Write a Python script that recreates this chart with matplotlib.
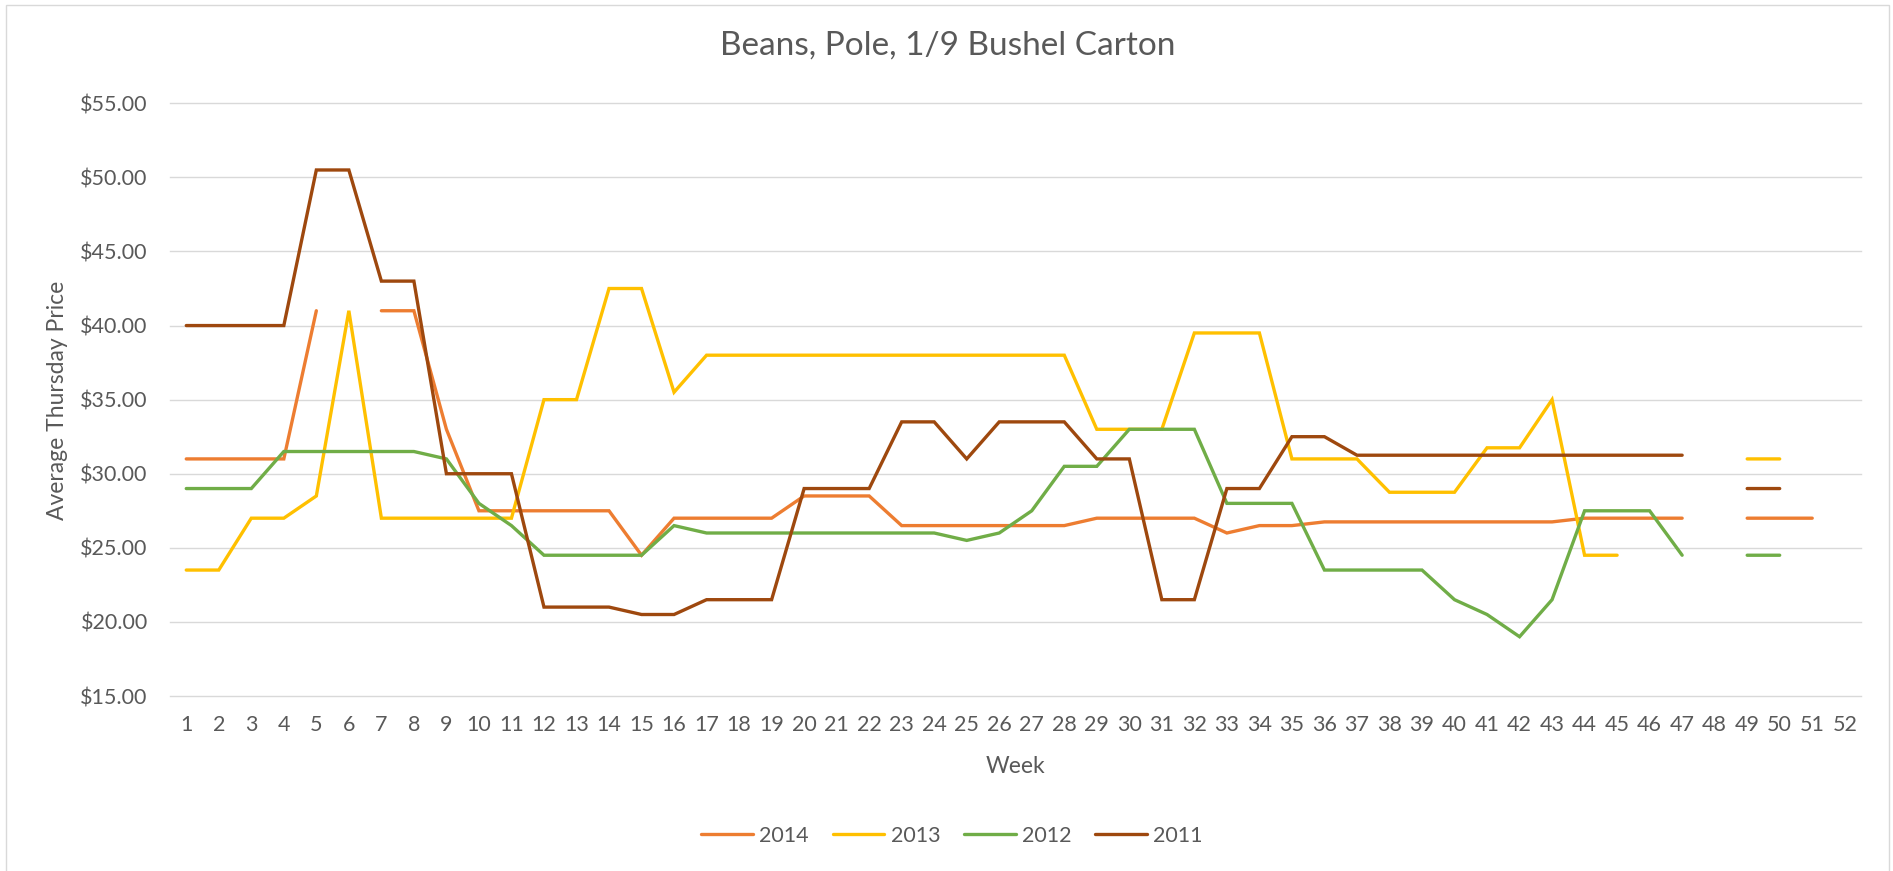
import numpy as np
import matplotlib
matplotlib.use("Agg")
import matplotlib.pyplot as plt
from matplotlib.patches import Rectangle
from matplotlib.ticker import FuncFormatter

nan = np.nan
weeks = list(range(1, 53))

y2014 = [31, 31, 31, 31, 41, nan, 41, 41, 33, 27.5,
         27.5, 27.5, 27.5, 27.5, 24.5, 27, 27, 27, 27, 28.5,
         28.5, 28.5, 26.5, 26.5, 26.5, 26.5, 26.5, 26.5, 27, 27,
         27, 27, 26, 26.5, 26.5, 26.75, 26.75, 26.75, 26.75, 26.75,
         26.75, 26.75, 26.75, 27, 27, 27, 27, nan, 27, 27,
         27, nan]
y2013 = [23.5, 23.5, 27, 27, 28.5, 41, 27, 27, 27, 27,
         27, 35, 35, 42.5, 42.5, 35.5, 38, 38, 38, 38,
         38, 38, 38, 38, 38, 38, 38, 38, 33, 33,
         33, 39.5, 39.5, 39.5, 31, 31, 31, 28.75, 28.75, 28.75,
         31.75, 31.75, 35, 24.5, 24.5, nan, nan, nan, 31, 31,
         nan, nan]
y2012 = [29, 29, 29, 31.5, 31.5, 31.5, 31.5, 31.5, 31, 28,
         26.5, 24.5, 24.5, 24.5, 24.5, 26.5, 26, 26, 26, 26,
         26, 26, 26, 26, 25.5, 26, 27.5, 30.5, 30.5, 33,
         33, 33, 28, 28, 28, 23.5, 23.5, 23.5, 23.5, 21.5,
         20.5, 19, 21.5, 27.5, 27.5, 27.5, 24.5, nan, 24.5, 24.5,
         nan, nan]
y2011 = [40, 40, 40, 40, 50.5, 50.5, 43, 43, 30, 30,
         30, 21, 21, 21, 20.5, 20.5, 21.5, 21.5, 21.5, 29,
         29, 29, 33.5, 33.5, 31, 33.5, 33.5, 33.5, 31, 31,
         21.5, 21.5, 29, 29, 32.5, 32.5, 31.25, 31.25, 31.25, 31.25,
         31.25, 31.25, 31.25, 31.25, 31.25, 31.25, 31.25, nan, 29, 29,
         nan, nan]

series_labels = ["2014", "2013", "2012", "2011"]
series_values = [y2014, y2013, y2012, y2011]
series_colors = ["#ED7D31", "#FFC000", "#70AD47", "#9E480E"]

title = "Beans, Pole, 1/9 Bushel Carton"
xlabel = "Week"
ylabel = "Average Thursday Price"
yticks = [15, 20, 25, 30, 35, 40, 45, 50, 55]

plt.rcParams['font.family'] = ['Lato', 'DejaVu Sans']
txt = "#595959"
grid_c = "#D9D9D9"

W, H = 1893, 871
fig = plt.figure(figsize=(W / 100, H / 100), dpi=100)
fig.patch.set_facecolor("white")

left, right, top, bottom = 170, 1861, 103.3, 696
ax = fig.add_axes([left / W, 1 - bottom / H, (right - left) / W, (bottom - top) / H])

for lab, vals, col in zip(series_labels, series_values, series_colors):
    ax.plot(weeks, np.array(vals, dtype=float), color=col, lw=2.4,
            solid_capstyle="round", solid_joinstyle="miter", label=lab)

ax.set_xlim(0.5, 52.5)
ax.set_ylim(15, 55)
ax.set_xticks(weeks)
ax.set_xticklabels([str(w) for w in weeks])
ax.set_yticks(yticks)
ax.yaxis.set_major_formatter(FuncFormatter(lambda v, p: "${:.2f}".format(v)))

for s in ["top", "right", "left", "bottom"]:
    ax.spines[s].set_visible(False)
ax.yaxis.grid(True, color=grid_c, lw=1.0)
ax.set_axisbelow(True)
for gl in ax.get_ygridlines():
    gl.set_clip_on(False)
ax.tick_params(axis="both", length=0, labelsize=15.5, labelcolor=txt)
ax.tick_params(axis="y", pad=16)
ax.tick_params(axis="x", pad=14)

fig.text(948 / W, 1 - 46 / H, title, ha="center", va="center", fontsize=24, color=txt)
fig.text(1015 / W, 1 - 766 / H, xlabel, ha="center", va="center", fontsize=16.5, color=txt)
fig.text(58 / W, 1 - 400 / H, ylabel, ha="center", va="center", rotation=90,
         fontsize=16.5, color=txt)

handles, labels = ax.get_legend_handles_labels()
leg = fig.legend(handles, labels, loc="center", bbox_to_anchor=(952 / W, 1 - 836 / H),
                 ncol=4, frameon=False, fontsize=15.5, handlelength=2.4,
                 handletextpad=0.3, columnspacing=1.1, labelcolor=txt)

fig.add_artist(Rectangle((6 / W, -0.01), (1889 - 6) / W, 1.01 - 4.7 / H,
                         transform=fig.transFigure, fill=False, edgecolor=grid_c, lw=1.0))

fig.savefig("out.png", dpi=100, facecolor="white")
